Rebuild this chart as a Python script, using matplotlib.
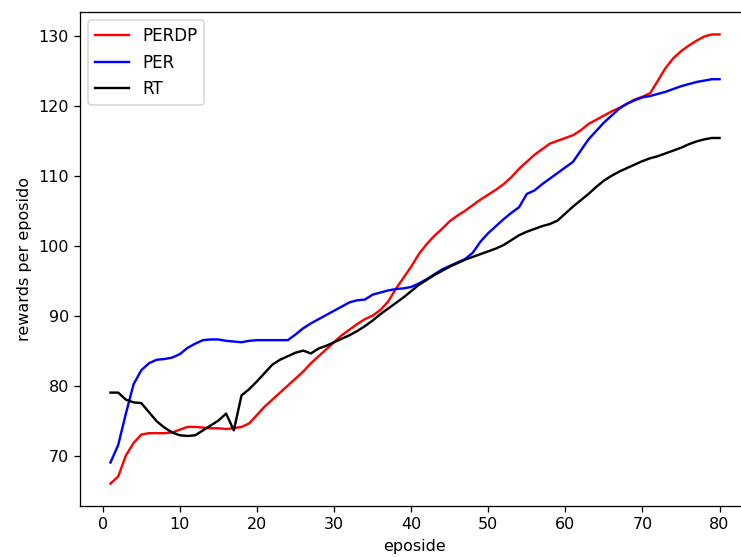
import matplotlib
matplotlib.use('Agg')
import matplotlib.pyplot as plt
import numpy as np

# episodes 1..80
episode = list(range(1, 81))

perdp = [66.0, 67.0, 70.0, 71.8, 73.0, 73.2, 73.2, 73.2, 73.3, 73.7,
         74.1, 74.1, 74.0, 73.9, 73.9, 73.8, 73.9, 74.1, 74.6, 75.8,
         77.0, 78.0, 79.0, 80.0, 81.0, 82.0, 83.2, 84.2, 85.2, 86.2,
         87.2, 88.0, 88.8, 89.5, 90.0, 90.8, 92.0, 93.8, 95.4, 97.0,
         98.8, 100.2, 101.4, 102.4, 103.5, 104.3, 105.0, 105.8, 106.6, 107.3,
         108.0, 108.8, 109.8, 111.0, 112.0, 113.0, 113.8, 114.6, 115.0, 115.4,
         115.8, 116.5, 117.4, 118.0, 118.6, 119.2, 119.7, 120.3, 120.9, 121.3,
         121.8, 123.6, 125.4, 126.8, 127.8, 128.6, 129.3, 129.9, 130.2, 130.2]

per = [69.0, 71.5, 76.0, 80.2, 82.2, 83.2, 83.7, 83.8, 84.0, 84.5,
       85.4, 86.0, 86.5, 86.6, 86.6, 86.4, 86.3, 86.2, 86.4, 86.5,
       86.5, 86.5, 86.5, 86.5, 87.3, 88.2, 88.9, 89.5, 90.1, 90.7,
       91.3, 91.9, 92.2, 92.3, 93.0, 93.3, 93.6, 93.8, 93.9, 94.1,
       94.6, 95.2, 95.9, 96.6, 97.1, 97.6, 98.1, 99.0, 100.6, 101.8,
       102.8, 103.8, 104.7, 105.5, 107.4, 107.9, 108.8, 109.6, 110.4, 111.2,
       112.0, 113.6, 115.2, 116.4, 117.6, 118.6, 119.6, 120.3, 120.8, 121.2,
       121.4, 121.7, 122.0, 122.4, 122.8, 123.1, 123.4, 123.6, 123.8, 123.8]

rt = [79.0, 79.0, 78.0, 77.6, 77.5, 76.2, 74.9, 74.0, 73.3, 72.9,
      72.8, 72.9, 73.6, 74.3, 75.0, 76.0, 73.6, 78.6, 79.5, 80.6,
      81.8, 83.0, 83.7, 84.2, 84.7, 85.0, 84.6, 85.3, 85.7, 86.2,
      86.7, 87.2, 87.8, 88.5, 89.3, 90.2, 91.0, 91.8, 92.6, 93.5,
      94.4, 95.1, 95.8, 96.4, 97.0, 97.5, 98.0, 98.4, 98.8, 99.2,
      99.6, 100.1, 100.8, 101.5, 102.0, 102.4, 102.8, 103.1, 103.6, 104.6,
      105.6, 106.5, 107.4, 108.4, 109.3, 110.0, 110.6, 111.1, 111.6, 112.1,
      112.5, 112.8, 113.2, 113.6, 114.0, 114.5, 114.9, 115.2, 115.4, 115.4]

fig = plt.figure(figsize=(741 / 115.2, 557 / 115.2), dpi=115.2)
ax = fig.add_axes([80 / 741, 51 / 557, 670 / 741, 494 / 557])

ax.plot(episode, perdp, color='r', label='PERDP')
ax.plot(episode, per, color='b', label='PER')
ax.plot(episode, rt, color='k', label='RT')

# the source image is cropped just before the right spine
ax.spines['right'].set_visible(False)

ax.set_xlabel('eposide')
ax.set_ylabel('rewards per eposido')
ax.legend(loc='upper left', fontsize=10.5)

fig.savefig('out.png', dpi=115.2)
